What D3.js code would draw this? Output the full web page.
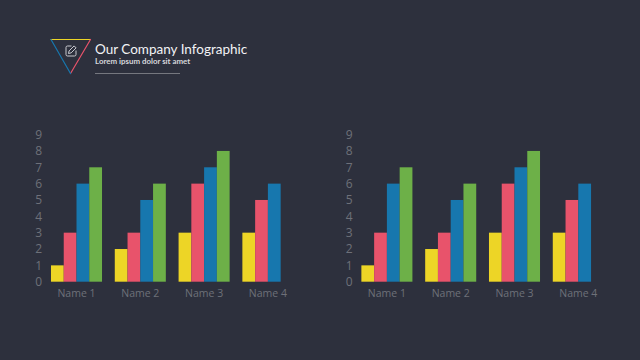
<!DOCTYPE html>
<html>
<head>
<meta charset="utf-8">
<script src="https://cdn.jsdelivr.net/npm/d3@7"></script>
<style>
html, body { margin: 0; padding: 0; background: #2d303d; }
svg { display: block; }
.axis text { font-family: "Open Sans", sans-serif; fill: #6e7079; }
</style>
</head>
<body>
<script>
const categories = ["Name 1", "Name 2", "Name 3", "Name 4"];
const seriesNames = ["a", "b", "c", "d"];
const seriesA = [1, 2, 3, 3];
const seriesB = [3, 3, 6, 5];
const seriesC = [6, 5, 7, 6];
const seriesD = [7, 6, 8, null];
const seriesColors = ["#edd526", "#e8536b", "#1777ae", "#6db048"];
const yTicks = [0, 1, 2, 3, 4, 5, 6, 7, 8, 9];
const allSeries = [seriesA, seriesB, seriesC, seriesD];

const svg = d3.select("body").append("svg")
    .attr("width", 640)
    .attr("height", 360);

// header
const head = svg.append("g");
const triLines = [
    {x1: 51, y1: 39.5, x2: 90.5, y2: 39.5, c: seriesColors[0]},
    {x1: 90.5, y1: 39.5, x2: 70.5, y2: 73.5, c: seriesColors[1]},
    {x1: 70.5, y1: 73.5, x2: 51, y2: 39.5, c: seriesColors[2]}
];
head.selectAll("line.tri")
    .data(triLines)
    .join("line")
    .classed("tri", true)
    .attr("x1", d=>d.x1).attr("y1", d=>d.y1)
    .attr("x2", d=>d.x2).attr("y2", d=>d.y2)
    .attr("stroke", d=>d.c)
    .attr("stroke-width", 1.2)
    .attr("stroke-linecap", "round");

// pencil icon
head.append("path")
    .attr("d", "M71.5,46H67.5a1.5,1.5 0 0 0 -1.5,1.5v7a1.5,1.5 0 0 0 1.5,1.5h7a1.5,1.5 0 0 0 1.5,-1.5V50.5")
    .attr("fill", "none")
    .attr("stroke", "#c9cad0")
    .attr("stroke-width", 1);
head.append("path")
    .attr("d", "M68.5,53.5l0.6,-2.6l5,-5l2,2l-5,5z")
    .attr("fill", "none")
    .attr("stroke", "#c9cad0")
    .attr("stroke-width", 1);

head.append("text")
    .attr("x", 95).attr("y", 53.5)
    .attr("font-family", "Lato, sans-serif")
    .attr("font-size", 13.5)
    .attr("fill", "#f2f3f5")
    .text("Our Company Infographic");
head.append("text")
    .attr("x", 95).attr("y", 64)
    .attr("font-family", "Lato, sans-serif")
    .attr("font-size", 7.9)
    .attr("font-weight", 700)
    .attr("fill", "#d6d7dc")
    .text("Lorem ipsum dolor sit amet");
head.append("line")
    .attr("x1", 95).attr("x2", 180)
    .attr("y1", 73.5).attr("y2", 73.5)
    .attr("stroke", "#75777f")
    .attr("stroke-width", 1);

// 차트 두개 (same data)
drawChart(44.6, 299.8);
drawChart(355, 610.2);

function drawChart(left, right){
    let g = svg.append("g");
    let xScale = d3.scaleBand().domain(categories).range([left, right]).paddingInner(0.2).paddingOuter(0.1);
    let sScale = d3.scaleBand().domain(seriesNames).range([0, xScale.bandwidth()]);
    let yScale = d3.scaleLinear().domain([0, 9]).range([281.7, 134.6]);

    let xAxis = g.append("g")
    .classed("axis", true)
    .attr("transform", "translate(0,281.7)")
    .call(d3.axisBottom(xScale).tickSize(0).tickPadding(8));
    xAxis.select(".domain").remove();
    xAxis.selectAll("text").attr("font-size", 10.5);

    let yAxis = g.append("g")
    .classed("axis", true)
    .attr("transform", `translate(${left-2.5},0)`)
    .call(d3.axisLeft(yScale).tickValues(yTicks).tickSize(0).tickPadding(0));
    yAxis.select(".domain").remove();
    yAxis.selectAll("text").attr("font-size", 12);

    let groups = g.selectAll("g.series")
    .data(allSeries)
    .join("g")
    .classed("series", true)
    .attr("fill", (d,i)=>seriesColors[i]);

    groups.selectAll("rect")
    .data((d,i)=>d.map((v,j)=>({cat: categories[j], name: seriesNames[i], value: v})).filter(d=>d.value != null))
    .join("rect")
    .attr("x", d=>xScale(d.cat)+sScale(d.name))
    .attr("y", d=>yScale(d.value))
    .attr("width", sScale.bandwidth())
    .attr("height", d=>yScale(0)-yScale(d.value));
}
</script>
</body>
</html>
